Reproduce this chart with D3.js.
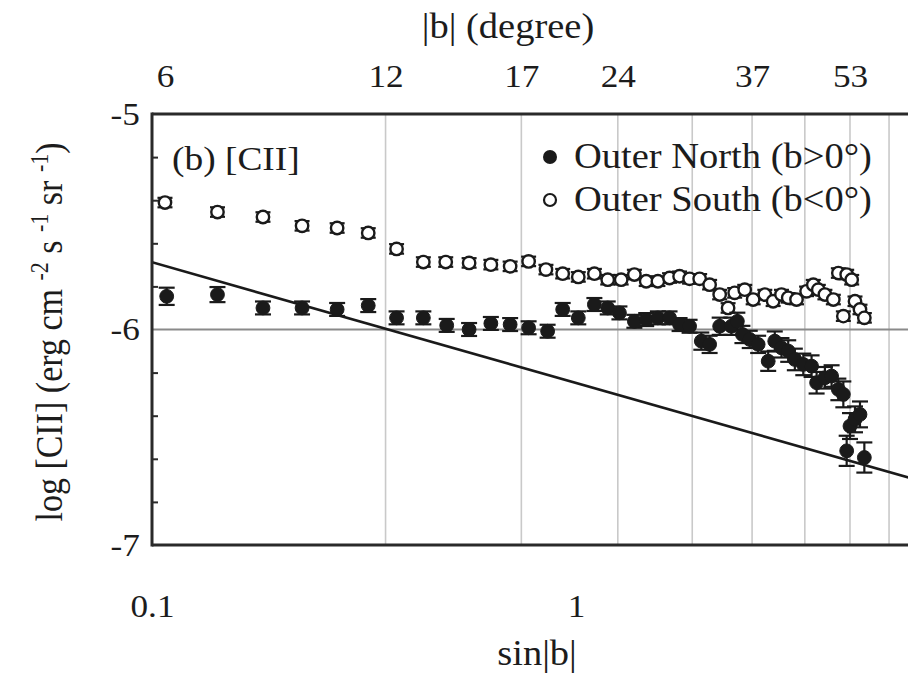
<!DOCTYPE html>
<html>
<head>
<meta charset="utf-8">
<script src="https://cdn.jsdelivr.net/npm/d3@7"></script>
<style>
  html, body { margin: 0; padding: 0; background: #fff; }
  svg text { font-family: "Liberation Serif", "Times New Roman", serif; fill: #1c1c1c; }
</style>
</head>
<body>
<svg id="chart" width="908" height="676"></svg>
<script>
// ---------------- data ----------------
const northX = [0.1083, 0.1427, 0.1827, 0.2259, 0.2733, 0.3236, 0.3774, 0.4365, 0.4955, 0.5596,
  0.6298, 0.6993, 0.7731, 0.8571, 0.9303, 1.0125, 1.105, 1.188, 1.266, 1.373,
  1.464, 1.560, 1.662, 1.755, 1.853, 1.975, 2.066, 2.182, 2.325, 2.402,
  2.469, 2.569, 2.689, 2.840, 2.943, 3.052, 3.166, 3.282, 3.436, 3.594,
  3.694, 3.864, 4.007, 4.157, 4.271, 4.428, 4.550, 4.675, 4.349, 4.787];
const northY = [-5.846, -5.838, -5.900, -5.900, -5.907, -5.889, -5.946, -5.946, -5.981, -6.000,
  -5.972, -5.977, -5.992, -6.008, -5.907, -5.946, -5.884, -5.900, -5.923, -5.962,
  -5.954, -5.946, -5.946, -5.977, -5.985, -6.054, -6.069, -5.985, -5.985, -5.962,
  -6.023, -6.046, -6.069, -6.147, -6.054, -6.085, -6.100, -6.139, -6.162, -6.170,
  -6.247, -6.224, -6.216, -6.278, -6.301, -6.448, -6.417, -6.394, -6.563, -6.594];
const northErr = [0.04, 0.035, 0.03, 0.03, 0.03, 0.03, 0.03, 0.03, 0.03, 0.03,
  0.03, 0.03, 0.03, 0.03, 0.03, 0.03, 0.03, 0.03, 0.03, 0.03,
  0.03, 0.03, 0.03, 0.03, 0.03, 0.04, 0.04, 0.04, 0.04, 0.04,
  0.04, 0.04, 0.04, 0.045, 0.045, 0.045, 0.05, 0.05, 0.05, 0.05,
  0.05, 0.05, 0.05, 0.05, 0.06, 0.06, 0.06, 0.06, 0.07, 0.07];

const southX = [0.1073, 0.1427, 0.1827, 0.2259, 0.2733, 0.3236, 0.3774, 0.4365, 0.4929, 0.5596,
  0.6298, 0.6993, 0.7731, 0.8494, 0.9303, 1.0125, 1.105, 1.188, 1.278, 1.373,
  1.464, 1.560, 1.662, 1.755, 1.853, 1.957, 2.066, 2.182, 2.284, 2.367,
  2.500, 2.617, 2.788, 2.917, 3.052, 3.166, 3.312, 3.498, 3.628, 3.728,
  3.864, 4.045, 4.157, 4.349, 4.469, 4.550, 4.271, 4.675, 4.787];
const southY = [-5.411, -5.455, -5.478, -5.519, -5.529, -5.552, -5.626, -5.687, -5.687, -5.691,
  -5.699, -5.707, -5.684, -5.722, -5.741, -5.756, -5.741, -5.769, -5.769, -5.745,
  -5.776, -5.776, -5.761, -5.753, -5.765, -5.765, -5.792, -5.838, -5.900, -5.830,
  -5.815, -5.861, -5.838, -5.869, -5.838, -5.853, -5.861, -5.823, -5.792, -5.815,
  -5.838, -5.861, -5.738, -5.745, -5.769, -5.869, -5.938, -5.907, -5.946];
const southErr = southX.map(() => 0.022);

const fitX = [0.1, 6.5];
const fitY = [-5.688, -6.703];

const gridX = [0.3555, 0.7432, 1.2549, 1.880, 2.602, 3.465, 4.428, 5.474];
const topTickVals = [0.1073, 0.3555, 0.7432, 1.2549, 2.602, 4.428];
const topTickLabels = ["6", "12", "17", "24", "37", "53"];
const xTickVals = [0.1, 1];
const xTickLabels = ["0.1", "1"];
const yTickVals = [-7, -6, -5];
const yMinorVals = [-6.8, -6.6, -6.4, -6.2, -5.8, -5.6, -5.4, -5.2];
const hLineY = -6;

const seriesNames = ["Outer North (b>0°)", "Outer South (b<0°)"];

// ---------------- layout ----------------
const pL = 152, pT = 114, pB = 545, pR = 908;
const sx = 1.1; // horizontal text stretch seen in the reference
const svg = d3.select("#chart");
const x = d3.scaleLog().domain([0.1, 6.5]).range([pL, pL + 424 * Math.log10(65)]);
const y = d3.scaleLinear().domain([-7, -5]).range([pB, pT]);

svg.append("defs").append("clipPath").attr("id", "clip")
  .append("rect").attr("x", pL).attr("y", pT).attr("width", pR - pL).attr("height", pB - pT);

const plot = svg.append("g").attr("clip-path", "url(#clip)");

// vertical grid
plot.selectAll("line.vg").data(gridX).enter().append("line")
  .attr("x1", d => x(d)).attr("x2", d => x(d))
  .attr("y1", pT).attr("y2", pB)
  .attr("stroke", "#c9c9c9").attr("stroke-width", 1.6);

// horizontal line at -6
plot.append("line")
  .attr("x1", pL).attr("x2", pR)
  .attr("y1", y(hLineY)).attr("y2", y(hLineY))
  .attr("stroke", "#8a8a8a").attr("stroke-width", 2);

// fit line
plot.append("line")
  .attr("x1", x(fitX[0])).attr("y1", y(fitY[0]))
  .attr("x2", x(fitX[1])).attr("y2", y(fitY[1]))
  .attr("stroke", "#1a1a1a").attr("stroke-width", 2.6);

function drawSeries(xs, ys, es, filled) {
  const data = xs.map((d, i) => ({ x: d, y: ys[i], e: es[i] }));
  const g = plot.append("g");
  const cap = filled ? 8 : 7.5;
  const eb = g.selectAll("g.eb").data(data).enter().append("g")
    .attr("stroke", "#1a1a1a").attr("stroke-width", 2.2);
  eb.append("line")
    .attr("x1", d => x(d.x)).attr("x2", d => x(d.x))
    .attr("y1", d => y(d.y - d.e)).attr("y2", d => y(d.y + d.e));
  eb.append("line")
    .attr("x1", d => x(d.x) - cap).attr("x2", d => x(d.x) + cap)
    .attr("y1", d => y(d.y - d.e)).attr("y2", d => y(d.y - d.e));
  eb.append("line")
    .attr("x1", d => x(d.x) - cap).attr("x2", d => x(d.x) + cap)
    .attr("y1", d => y(d.y + d.e)).attr("y2", d => y(d.y + d.e));
  g.selectAll("circle").data(data).enter().append("circle")
    .attr("cx", d => x(d.x)).attr("cy", d => y(d.y))
    .attr("r", filled ? 6.9 : 6.2)
    .attr("fill", filled ? "#1a1a1a" : "#fff")
    .attr("stroke", "#1a1a1a").attr("stroke-width", filled ? 1 : 2.4);
}
drawSeries(southX, southY, southErr, false);
drawSeries(northX, northY, northErr, true);

// frame
const frame = svg.append("g").attr("stroke", "#2a2a2a").attr("stroke-width", 3);
frame.append("line").attr("x1", pL).attr("x2", pR).attr("y1", pT).attr("y2", pT);
frame.append("line").attr("x1", pL).attr("x2", pR).attr("y1", pB).attr("y2", pB);
frame.append("line").attr("x1", pL).attr("x2", pL).attr("y1", pT - 1.5).attr("y2", pB + 1.5);

// minor ticks on left (inside)
const minorAxis = svg.append("g").attr("transform", `translate(${pL},0)`)
  .call(d3.axisRight(y).tickValues(yMinorVals).tickSize(6).tickFormat(""));
minorAxis.select(".domain").remove();
minorAxis.selectAll("line").attr("stroke", "#2a2a2a").attr("stroke-width", 2);

function styleTicks(sel) {
  sel.select(".domain").remove();
  sel.selectAll("text")
    .style("font-family", "Liberation Serif").style("font-size", "32px")
    .attr("fill", "#1c1c1c").attr("transform", `scale(${sx},1)`);
}

// y labels
const yAxis = svg.append("g").attr("transform", `translate(${pL},0)`)
  .call(d3.axisLeft(y).tickValues(yTickVals).tickSize(0).tickPadding(11).tickFormat(d => String(d)));
styleTicks(yAxis);

// bottom labels
const xAxis = svg.append("g").attr("transform", `translate(0,${pB})`)
  .call(d3.axisBottom(x).tickValues(xTickVals).tickSize(0).tickPadding(49)
    .tickFormat((d, i) => xTickLabels[i]));
styleTicks(xAxis);

// top labels
const tAxis = svg.append("g").attr("transform", `translate(0,${pT})`)
  .call(d3.axisTop(x).tickValues(topTickVals).tickSize(0).tickPadding(27)
    .tickFormat((d, i) => topTickLabels[i]));
styleTicks(tAxis);

function label(px, py, txt, size, anchor) {
  return svg.append("g").attr("transform", `translate(${px},${py}) scale(${sx},1)`)
    .append("text").attr("text-anchor", anchor || "start")
    .style("font-size", size + "px").text(txt);
}

// axis titles
label(537, 665, "sin|b|", 35, "middle");
label(508, 38, "|b| (degree)", 35, "middle");

const yt = svg.append("text").attr("transform", `translate(62,332) scale(${sx},1) rotate(-90)`)
  .attr("text-anchor", "middle").style("font-size", "34px");
yt.append("tspan").text("log [CII] (erg cm ");
yt.append("tspan").attr("dy", -13).style("font-size", "22px").text("-2");
yt.append("tspan").attr("dy", 13).text(" s ");
yt.append("tspan").attr("dy", -13).style("font-size", "22px").text("-1");
yt.append("tspan").attr("dy", 13).text(" sr ");
yt.append("tspan").attr("dy", -13).style("font-size", "22px").text("-1");
yt.append("tspan").attr("dy", 13).text(")");

// panel label
label(172, 170, "(b) [CII]", 34);

// legend
const leg = svg.append("g");
leg.append("circle").attr("cx", 550).attr("cy", 157).attr("r", 7).attr("fill", "#1a1a1a");
leg.append("circle").attr("cx", 550).attr("cy", 200).attr("r", 6).attr("fill", "#fff")
  .attr("stroke", "#1a1a1a").attr("stroke-width", 2.2);
label(574, 168, seriesNames[0], 35);
label(574, 211, seriesNames[1], 35);
</script>
</body>
</html>
